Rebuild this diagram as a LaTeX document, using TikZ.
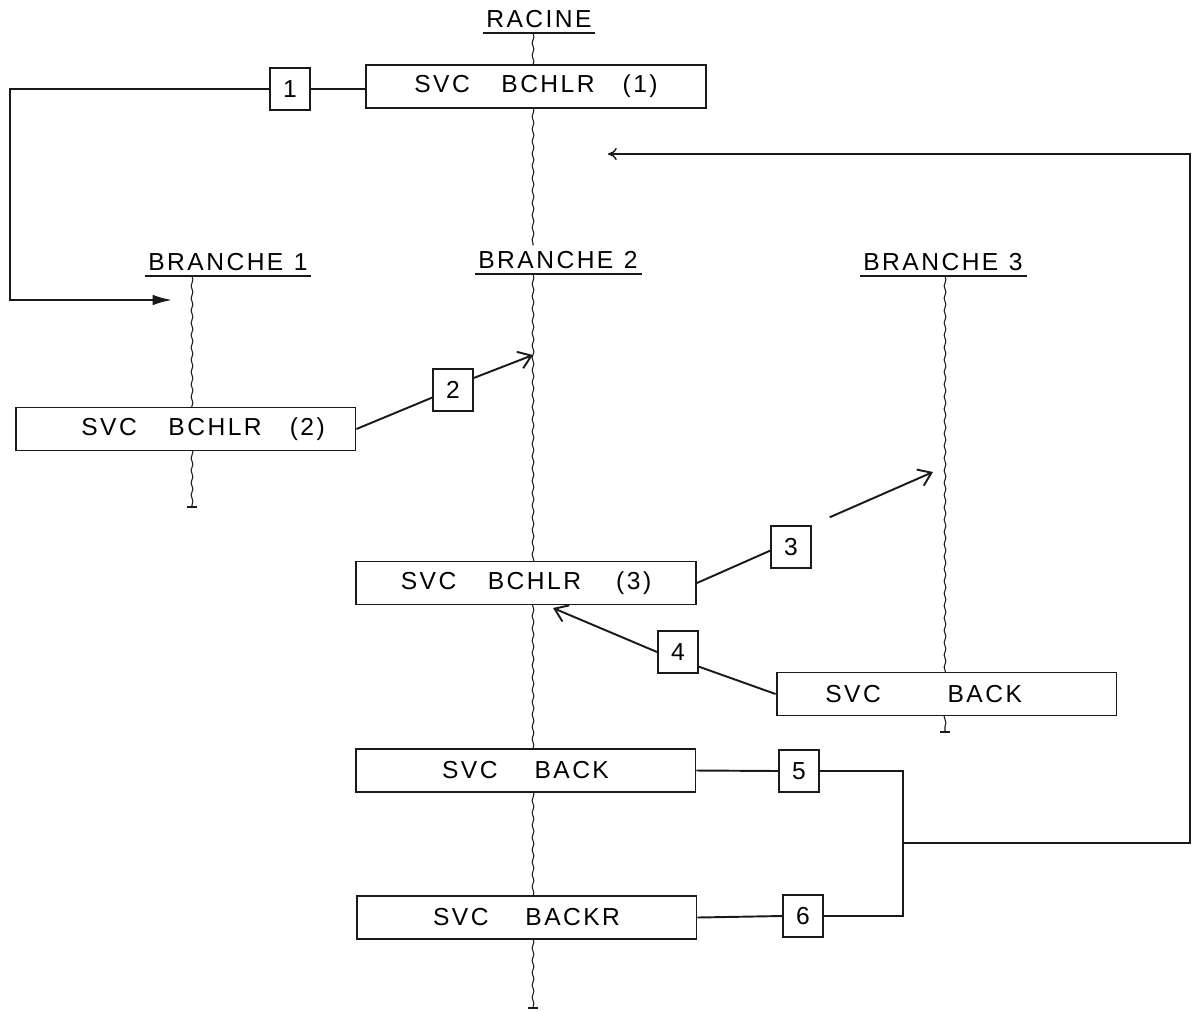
\documentclass[tikz,border=0pt]{standalone}
\usepackage{fontspec}
\setmainfont{Liberation Sans}[LetterSpace=10]
\usetikzlibrary{positioning, arrows.meta, decorations.pathmorphing}
\definecolor{trait}{HTML}{1A1A1A}

\begin{document}
\begin{tikzpicture}[x=0.02cm, y=-0.02cm, font=\fontsize{14}{16}\selectfont,
		svc/.style={draw=trait, line width=1.1pt, fill=white, minimum width=6.8cm, minimum height=0.86cm, inner sep=0pt},
		num/.style={draw=trait, line width=1.1pt, fill=white, minimum width=0.8cm, minimum height=0.84cm, inner sep=0pt},
		titre/.style={inner xsep=2pt, inner ysep=3pt, anchor=south},
		branche/.style={trait, line width=0.6pt, decorate, decoration={snake, amplitude=0.5pt, segment length=7pt}},
		lien/.style={trait, line width=1.1pt},
		retour/.style={trait, line width=0.8pt},
		fleche/.style={lien, -{Straight Barb[length=7pt,width=10pt]}}]
				\useasboundingbox (0,0) rectangle (1195,1011);
				% titres
				\node[titre] (racine)   at (539,33)  {RACINE};
				\node[titre] (branche1) at (228,276) {BRANCHE\hspace{6pt}1};
				\node[titre] (branche2) at (558,274) {BRANCHE\hspace{6pt}2};
				\node[titre] (branche3) at (943,276) {BRANCHE\hspace{6pt}3};
				\foreach \t in {racine, branche1, branche2, branche3}
					\draw[trait, line width=1pt] (\t.south west) -- (\t.south east);
				% fins de branche
				\coordinate (b1end) at (192,507);
				\coordinate (b2end) at (533,1008);
				\coordinate (b3end) at (945,732);
				\draw[branche] (racine.south -| b2end) -- (branche2.north -| b2end);
				\draw[branche] (branche1.south -| b1end) -- (b1end);
				\draw[branche] (branche2.south -| b2end) -- (b2end);
				\draw[branche] (branche3.south -| b3end) -- (b3end);
				\foreach \b in {b1end, b2end, b3end}
					\draw[trait, line width=1pt] (\b) ++(-5,0) -- ++(10,0);
				% appels
				\node[svc] (bchlr1) at (536,86.5)   {SVC\hspace{18pt}BCHLR\hspace{16pt}(1)};
				\node[svc] (bchlr2) at (185.5,429)  {\hspace*{20pt}SVC\hspace{18pt}BCHLR\hspace{16pt}(2)};
				\node[svc] (bchlr3) at (526,583)    {SVC\hspace{18pt}BCHLR\hspace{20pt}(3)};
				\node[svc] (back3)  at (946.5,694)  {SVC\hspace{38pt}BACK\hspace*{26pt}};
				\node[svc] (back2)  at (525.5,770.5) {SVC\hspace{21pt}BACK};
				\node[svc] (backr)  at (526.5,917.5) {SVC\hspace{21pt}BACKR};
				% numeros
				\node[num] (n1) at (290,89)  {1};
				\node[num] (n2) at (453,390) {2};
				\node[num] (n3) at (791,547) {3};
				\node[num] (n4) at (678,652) {4};
				\node[num] (n5) at (799,771) {5};
				\node[num] (n6) at (803,916) {6};
				% liaisons
				\coordinate (k1) at (10,300);
				\coordinate (t1) at (172,300);
				\coordinate (t2) at (533,355);
				\coordinate (t3) at (933,472);
				\coordinate (t4) at (553,608);
				\coordinate (j)  at (903,843);
				\coordinate (k2) at (1190,154);
				\coordinate (t0) at (608,154);
				\draw[lien] (n1.east) -- (n1.east -| bchlr1.west);
				\draw[lien, -{Latex[length=11pt,width=6pt]}] (n1.west) -| (k1) -- (t1);
				\draw[lien] (bchlr2.east) -- (n2.200);
				\draw[fleche] (n2.30) -- (t2);
				\draw[lien] (bchlr3.east) -- (n3.190);
				\draw[fleche, shorten <=11pt] (n3.north east) -- (t3);
				\draw[fleche] (n4.west) -- (t4);
				\draw[lien] (back3.west) -- (n4.-35);
				\draw[lien] (back2.east) -- (n5.west);
				\draw[lien] (backr.east) -- (n6.west);
				\draw[retour] (n5.east) -| (j) |- (n6.east);
				\draw[retour, -{To[length=5pt,width=7pt]}] (j) -| (k2) -- (t0);
			\end{tikzpicture}
\end{document}
